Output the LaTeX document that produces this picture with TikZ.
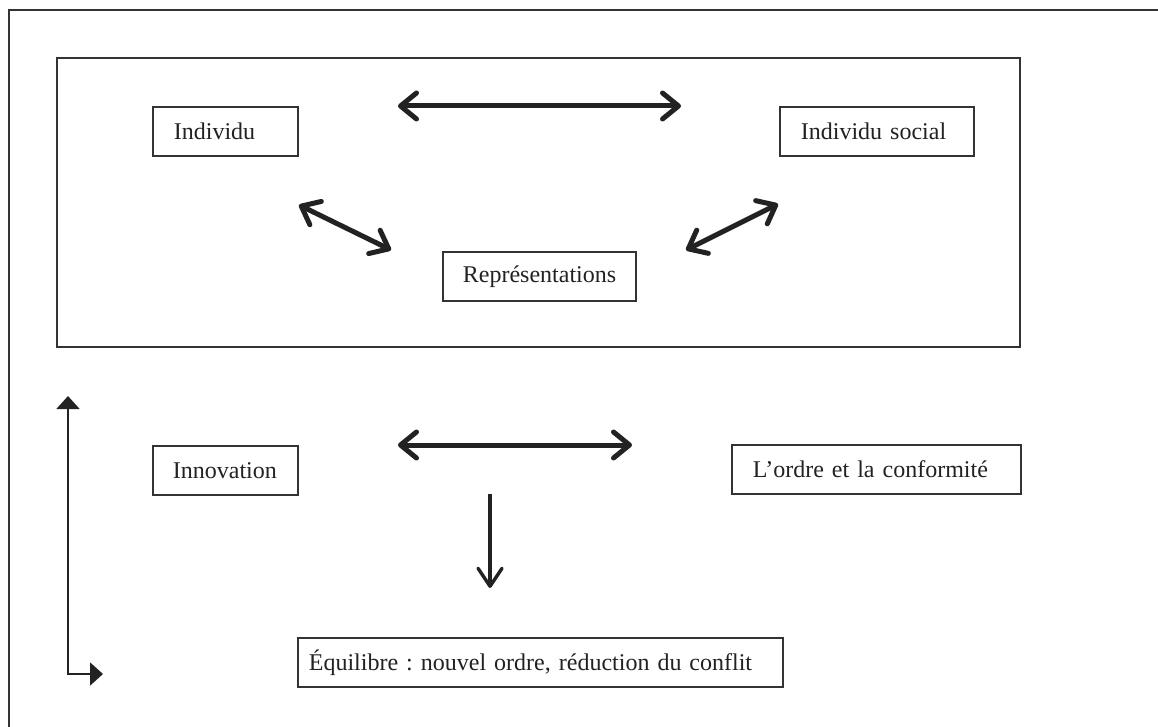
\documentclass[tikz,border=0pt]{standalone}
\usepackage{fontspec}
\setmainfont{Liberation Serif}
\usetikzlibrary{arrows.meta}
\definecolor{ink}{HTML}{222222}
\definecolor{frame}{HTML}{333333}
\frenchspacing
\begin{document}
\begin{tikzpicture}[x=1pt,y=-1pt,
  bx/.style={draw=frame, line width=1.8pt, anchor=north west, text=ink,
    font=\fontsize{24}{28}\selectfont, minimum height=49pt,
    inner ysep=0pt, align=left},
  twoway/.style={ink, line width=5pt, line cap=round,
    {Straight Barb[length=16pt,width=26pt,round]}-{Straight Barb[length=16pt,width=26pt,round]}},
  oneway/.style={ink, line width=3.4pt,
    -{Straight Barb[length=18pt,width=24pt,round]}},
  thinarrow/.style={ink, line width=1.8pt,
    {Triangle[length=13pt,width=23pt]}-{Triangle[length=13pt,width=23pt]}}]
\useasboundingbox (0,0) rectangle (1158,727);
\fill[white] (0,0) rectangle (1158,727);

% page frame (top and left rules)
\draw[frame, line width=2.2pt] (9,727) -- (9,10) -- (1158,10);

% upper panel
\draw[frame, line width=2pt] (57,58) rectangle (1020,347);

\node[bx, text width=103pt, inner xsep=21pt] (ind) at (152,106) {Individu};
\node[bx, text width=152pt, inner xsep=21pt] (soc) at (779,106) {Individu social};
\node[bx, text width=153pt, inner xsep=20pt, align=center] (rep) at (442,251) {Représentations};

\coordinate (t1) at (398,106);
\coordinate (t2) at (681,106);
\coordinate (l1) at (299,205);
\coordinate (l2) at (391,250);
\coordinate (r1) at (686,250);
\coordinate (r2) at (778,204);
\draw[twoway] (t1) -- (t2);
\draw[twoway] (l1) -- (l2);
\draw[twoway] (r1) -- (r2);

% lower panel
\node[bx, text width=105pt, inner xsep=20pt] (inn) at (152,445) {Innovation};
\node[bx, text width=247pt, inner xsep=21pt] (ord) at (731,444) {L’ordre et la conformité};
\node[bx, text width=463pt, inner xsep=11pt] (equ) at (297,637) {Équilibre : nouvel ordre, réduction du conflit};

\coordinate (b1) at (398,445);
\coordinate (b2) at (632,445);
\coordinate (d1) at (490,494);
\coordinate (d2) at (490,588);
\draw[twoway] (b1) -- (b2);
\draw[oneway] (d1) -- (d2);

% feedback loop on the left
\coordinate (up) at (68,396);
\coordinate (rt) at (103,674);
\draw[thinarrow] (up) |- (rt);
\end{tikzpicture}
\end{document}
